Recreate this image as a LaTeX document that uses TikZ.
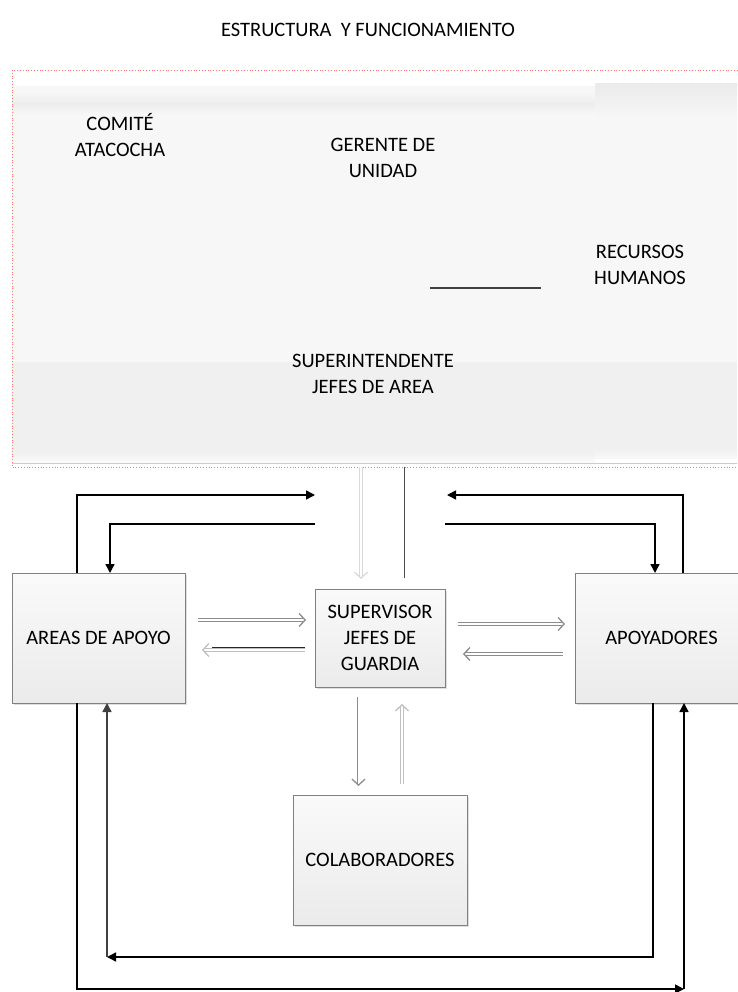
\documentclass[tikz,border=0pt]{standalone}
\usepackage{fontspec}
\setmainfont{Carlito}
\usetikzlibrary{arrows.meta,shadows}
\tikzset{
  box/.style={draw=black!50, line width=0.8pt, top color=black!2, bottom color=black!8,
    align=center, inner sep=0pt, outer sep=0pt, font=\fontsize{20.5}{26}\selectfont,
    drop shadow={shadow xshift=2pt,shadow yshift=-2pt,opacity=0.25}},
  lbl/.style={align=center, inner sep=0pt, font=\fontsize{20.5}{26}\selectfont},
  conn/.style={line width=1.5pt, black, -{Triangle[length=9pt,width=9pt]}},
  hollow/.style={draw=black!35, double=white, double distance=2pt, line width=0.8pt,
    -{Straight Barb[length=6pt,width=13pt,line width=1.3pt]}},
}
\begin{document}
\begin{tikzpicture}[x=1pt,y=-1pt]
\useasboundingbox (0,0) rectangle (737,992);
% top region panels
\fill[black!3] (12,86) rectangle (595,462);
\shade[top color=black!3,bottom color=black!7] (12,92) rectangle (595,104);
\shade[top color=black!7,bottom color=black!3] (12,104) rectangle (595,114);
\fill[black!6] (12,362) rectangle (595,452);
\shade[top color=black!6,bottom color=black!2] (12,452) rectangle (595,462);
\fill[black!3] (595,84) rectangle (737,458);
\shade[top color=black!8,bottom color=black!3] (595,84) rectangle (737,120);
\fill[black!6] (595,362) rectangle (737,448);
\shade[top color=black!6,bottom color=black!3] (595,448) rectangle (737,458);
\draw[black!20, line width=0.6pt] (12,463.5) -- (737,463.5);
\draw[red!55, dotted, line width=0.8pt] (12,70) rectangle (745,467);
\draw[black!75, line width=1.2pt] (430,288) -- (541,288);

\node[lbl] (title) at (368,30) {ESTRUCTURA\ \ Y FUNCIONAMIENTO};
\node[lbl] (comite) at (120,135) {COMITÉ\\ATACOCHA};
\node[lbl] (gerente) at (383,158) {GERENTE DE\\UNIDAD};
\node[lbl] (rrhh) at (640,265) {RECURSOS\\HUMANOS};
\node[lbl] (superint) at (373,374) {SUPERINTENDENTE\\JEFES DE AREA};

% boxes
\node[box, minimum width=173pt, minimum height=130pt] (areas) at (98.5,638) {AREAS DE APOYO};
\node[box, minimum width=130pt, minimum height=98pt] (sup) at (380,638) {SUPERVISOR\\JEFES DE\\GUARDIA};
\node[box, minimum width=173pt, minimum height=130pt] (apoy) at (661.5,638) {APOYADORES};
\node[box, minimum width=174pt, minimum height=130pt] (colab) at (380,860) {COLABORADORES};

% free ends
\coordinate (tl1) at (315,495);
\coordinate (tl2) at (315,524);
\coordinate (tr1) at (447,495);
\coordinate (tr2) at (445,524);
\coordinate (brc) at (684,989);
\coordinate (blc) at (107,957);
\coordinate (vt1) at (361,467);
\coordinate (vt2) at (361,579);
\coordinate (vt3) at (404,467);
\coordinate (vt4) at (404,578);
\coordinate (h1a) at (198,620);
\coordinate (h1b) at (306,620);
\coordinate (h2a) at (305,650);
\coordinate (h2b) at (202,650);
\coordinate (h3a) at (458,624);
\coordinate (h3b) at (565,624);
\coordinate (h4a) at (563,654);
\coordinate (h4b) at (463,654);
\coordinate (d1a) at (358.5,697);
\coordinate (d1b) at (358.5,786);
\coordinate (d2a) at (402,784);
\coordinate (d2b) at (402,704);

% black connectors
\draw[conn] ([xshift=-21.5pt]areas.north) |- (tl1);
\draw[conn] (tl2) -| ([xshift=11.5pt]areas.north);
\draw[conn] ([xshift=21.5pt]apoy.north) |- (tr1);
\draw[conn] (tr2) -| ([xshift=-6.5pt]apoy.north);
\draw[conn] ([xshift=-21.5pt]areas.south) |- (brc);
\draw[conn] (brc) -- ([xshift=22.5pt]apoy.south);
\draw[conn] ([xshift=-8.5pt]apoy.south) |- (blc);
\draw[conn, black!75] (blc) -- ([xshift=8.5pt]areas.south);

% hollow arrows
\draw[hollow, draw=black!15] (vt1) -- (vt2);
\draw[black!70, line width=1pt] (vt3) -- (vt4);
\draw[hollow, draw=black!45] (h1a) -- (h1b);
\draw[hollow, draw=black!25] (h2a) -- (h2b);
\draw[black!85, line width=1.2pt] (h2a) ++(0,-2.2) -- ++(-93,0);
\draw[hollow, draw=black!45] (h3a) -- (h3b);
\draw[hollow, draw=black!45] (h4a) -- (h4b);
\draw[hollow, draw=black!45] (d1a) -- (d1b);
\draw[hollow, draw=black!25] (d2a) -- (d2b);
\end{tikzpicture}
\end{document}
